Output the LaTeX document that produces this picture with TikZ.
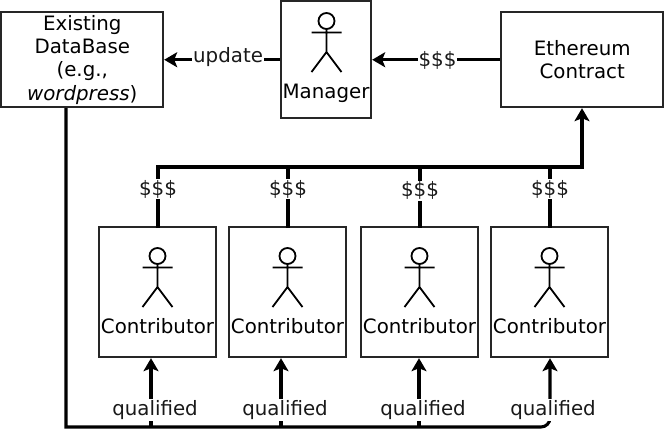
\documentclass[tikz,border=0pt]{standalone}
\usepackage{fontspec}
\setmainfont{DejaVu Sans}
\usetikzlibrary{arrows.meta}
\tikzset{
  x=1pt,y=-1pt,
  box/.style={draw=black!85,line width=1.9pt,inner sep=0pt,align=center,font=\fontsize{19.8}{23.4}\selectfont},
  lbl/.style={fill=white,inner sep=1pt,font=\fontsize{19.8}{23.4}\selectfont,text=black!90},
  actorlbl/.style={fill=white,inner sep=0.5pt,anchor=base,font=\fontsize{19.8}{23.4}\selectfont},
  conn/.style={line width=3.1pt,draw=black,line cap=rect},
  arr/.style={conn,line cap=butt,-{Stealth[length=13pt,width=15pt,inset=3pt]}},
  fig/.style={line width=1.8pt,draw=black}
}
\newcommand{\stickman}[2]{%
  \draw[fig] (#1,#2-11) circle[radius=8];
  \draw[fig] (#1,#2-3) -- (#1,#2+20) (#1-15,#2+0.5) -- (#1+15,#2+0.5)
     (#1-15,#2+40) -- (#1,#2+20) -- (#1+15,#2+40);
}
\begin{document}
\begin{tikzpicture}
\useasboundingbox (0,0) rectangle (665,437);
% boxes
\node[box,minimum width=162pt,minimum height=95pt] (db) at (82.25,59.75) {Existing\\DataBase\\(e.g.,\\\textit{wordpress})};
\node[box,minimum width=90pt,minimum height=117pt] (mgr) at (326.25,59.75) {};
\node[box,minimum width=162pt,minimum height=95pt] (eth) at (582.25,59.75) {Ethereum\\Contract};
\node[box,minimum width=117pt,minimum height=130pt] (c1) at (157.75,292.25) {};
\node[box,minimum width=117pt,minimum height=130pt] (c2) at (287.75,292.25) {};
\node[box,minimum width=117pt,minimum height=130pt] (c3) at (419.75,292.25) {};
\node[box,minimum width=117pt,minimum height=130pt] (c4) at (549.75,292.25) {};
% figures
\stickman{326.5}{32}
\stickman{157.5}{267}
\stickman{287.5}{267}
\stickman{419.5}{267}
\stickman{549.5}{267}
\node[actorlbl] (lm) at (326,98) {Manager};
\node[actorlbl] (l1) at (157.5,333) {Contributor};
\node[actorlbl] (l2) at (287.5,333) {Contributor};
\node[actorlbl] (l3) at (419.5,333) {Contributor};
\node[actorlbl] (l4) at (549.5,333) {Contributor};
% coordinates
\coordinate (busr) at (582,167);
\coordinate (b1) at (158,167);
\coordinate (b2) at (288,167);
\coordinate (b3) at (420,167);
\coordinate (b4) at (550,167);
\coordinate (qs) at (66,427);
\coordinate (q1) at (151,427);
\coordinate (q2) at (281,427);
\coordinate (q3) at (419,427);
\coordinate (q4) at (550,427);
% top connectors
\draw[arr] (mgr.west) -- (db.east) node[lbl,pos=0.45,yshift=2.5pt] (lu) {update};
\draw[arr] (eth.west) -- (mgr.east) node[lbl,pos=0.49,yshift=-1pt] (ld) {\$\$\$};
% payment bus
\draw[arr] (b1) -- (busr) -- (busr |- eth.south);
\draw[conn] (b1 |- c1.north) -- (b1) node[lbl,pos=0.63] (p1) {\$\$\$};
\draw[conn] (b2 |- c2.north) -- (b2) node[lbl,pos=0.63] (p2) {\$\$\$};
\draw[conn] (b3 |- c3.north) -- (b3) node[lbl,pos=0.6] (p3) {\$\$\$};
\draw[conn] (b4 |- c4.north) -- (b4) node[lbl,pos=0.63] (p4) {\$\$\$};
% qualification bus
\draw[arr] (db.south -| qs) -- (qs) -- (q1) [rounded corners=9pt] -- (q4) -- (q4 |- c4.south);
\draw[arr] (q1) -- (q1 |- c1.south);
\draw[arr] (q2) -- (q2 |- c2.south);
\draw[arr] (q3) -- (q3 |- c3.south);
\node[lbl] (t1) at (155,410) {qualified};
\node[lbl] (t2) at (285,410) {qualified};
\node[lbl] (t3) at (423,410) {qualified};
\node[lbl] (t4) at (553,410) {qualified};
\end{tikzpicture}
\end{document}
